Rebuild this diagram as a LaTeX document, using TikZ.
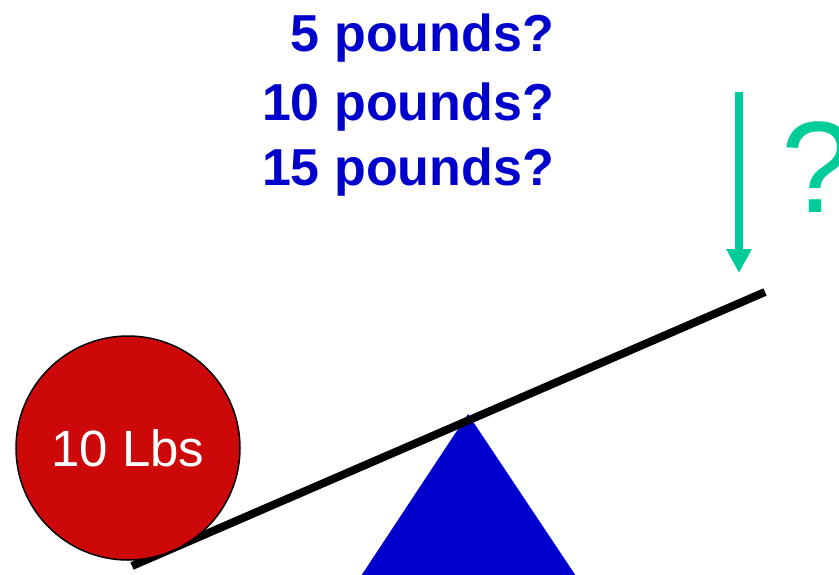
\documentclass[tikz,border=0pt]{standalone}
\usepackage{fontspec}
\setmainfont{Liberation Sans}
\usetikzlibrary{arrows.meta}
\definecolor{ballred}{RGB}{204,8,8}
\definecolor{darkblue}{RGB}{0,0,204}
\definecolor{qgreen}{RGB}{0,204,153}
\tikzset{
  qtext/.style={anchor=base east, inner sep=0pt, text=darkblue, font=\fontsize{52}{60}\selectfont\bfseries},
  weight/.style={circle, minimum size=224pt, inner sep=0pt, fill=ballred, draw=black, line width=1.5pt, text=white, font=\fontsize{51}{60}\selectfont},
  beam/.style={line width=8pt, black},
  garrow/.style={qgreen, line width=8pt, -{Triangle[width=24pt,length=24pt]}}
}
\begin{document}
\begin{tikzpicture}[x=1pt,y=-1pt]
\useasboundingbox (0,0) rectangle (839,574);
\clip (0,0) rectangle (839,574);
% fulcrum
\fill[darkblue] (468,414) -- (361,576) -- (576,576) -- cycle;
% beam
\coordinate (bl) at (132,566);
\coordinate (br) at (765,292);
\draw[beam] (bl) -- (br);
% weight
\node[weight] (w) at (128,448) {\raisebox{-2pt}{10 Lbs}};
% questions
\node[qtext] (q1) at (554,51) {5 pounds?};
\node[qtext] (q2) at (554,120) {10 pounds?};
\node[qtext] (q3) at (554,185) {15 pounds?};
% arrow
\coordinate (at) at (739,92);
\coordinate (ab) at (739,273);
\draw[garrow] (at) -- (ab);
\node[anchor=base west, inner sep=0pt, text=qgreen, font=\fontsize{130}{140}\selectfont] (qm) at (781,212) {?};
\end{tikzpicture}
\end{document}
